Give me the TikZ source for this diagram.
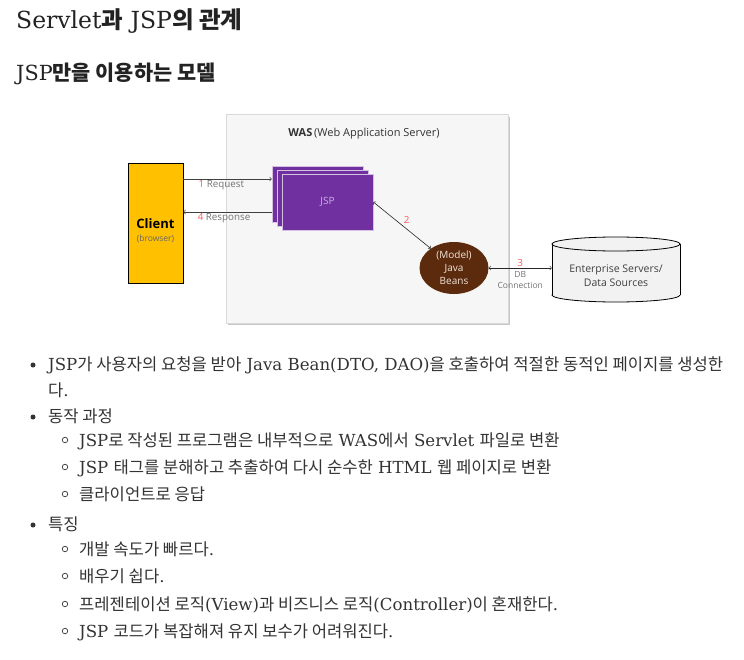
\documentclass[tikz,border=0pt]{standalone}
\usepackage{fontspec}
\setmainfont{DejaVu Serif}
\newfontfamily\kofont{Noto Sans CJK KR}
\newfontfamily\diafont{Open Sans}
\newcommand{\ko}[1]{{\kofont #1}}
\usetikzlibrary{shapes.geometric}
\definecolor{bodyclr}{HTML}{333333}
\definecolor{headclr}{HTML}{222222}
\definecolor{clientyellow}{HTML}{FFC000}
\definecolor{jsppurple}{HTML}{7030A0}
\definecolor{jsplight}{HTML}{C9B3E0}
\definecolor{beansbrown}{HTML}{5C2A0D}
\definecolor{beanstext}{HTML}{F2E6DA}
\definecolor{wasgray}{HTML}{F6F6F6}
\definecolor{dbgray}{HTML}{F2F2F2}
\definecolor{numred}{HTML}{FF5A5A}
\definecolor{lblgray}{HTML}{737373}

\begin{document}
\begin{tikzpicture}[x=1bp,y=-1bp,
    bodytext/.style={anchor=base west,inner sep=0pt,text=bodyclr,font=\fontsize{16.6bp}{20bp}\selectfont},
    bulletdot/.style={circle,fill=bodyclr,inner sep=0pt,minimum size=5bp},
    bulletring/.style={circle,draw=bodyclr,line width=0.7bp,inner sep=0pt,minimum size=5.5bp},
    jspbox/.style={rectangle,fill=jsppurple,draw=white!70!jsppurple,line width=0.6bp,minimum width=91bp,minimum height=56bp},
    lbl/.style={font=\diafont\fontsize{9.8bp}{12bp}\selectfont,text=lblgray,inner sep=1.5bp}]
\useasboundingbox[fill=white] (0,0) rectangle (744,660);

\node[anchor=base west,inner sep=0pt,text=headclr,font=\fontsize{23.5bp}{28bp}\selectfont] (title) at (16,29) {Servlet\ko{\bfseries 과} JSP\ko{\bfseries 의 관계}};
\node[anchor=base west,inner sep=0pt,text=headclr,font=\fontsize{20.8bp}{25bp}\selectfont] (subtitle) at (16,81) {JSP{\kofont\bfseries 만을 이용하는 모델}};

% WAS
\fill[black!22] (228,117) rectangle (510,325);
\draw[fill=wasgray,draw=black!15,line width=1bp] (226,115) rectangle (508,323);
\node[font=\diafont\fontsize{11bp}{13bp}\selectfont,text=black!80] (wastitle) at (364,134) {\textbf{WAS}\,(Web Application Server)};

\node[draw=black,line width=0.8bp,fill=clientyellow,minimum width=55bp,minimum height=120bp] (client) at (155.5,223) {};
\node[align=center,inner sep=0pt] (clientname) at ([yshift=-8bp]client.center) {{\diafont\bfseries\fontsize{13bp}{15bp}\selectfont Client}\\[1bp]{\diafont\fontsize{8.5bp}{10bp}\selectfont\color{black!60}(browser)}};

\node[jspbox] (jsp3) at (317.5,194) {};
\node[jspbox] (jsp2) at (322.5,198) {};
\node[jspbox,text=jsplight,font=\diafont\fontsize{10bp}{12bp}\selectfont] (jsp1) at (327.5,202) {JSP};

\node[ellipse,fill=beansbrown,minimum width=69bp,minimum height=52bp,inner sep=0pt,align=center,text=beanstext,font=\diafont\fontsize{10bp}{13bp}\selectfont] (beans) at (454,268) {(Model)\\Java\\Beans};

% DB
\draw[fill=dbgray,line width=0.8bp] (616,295) ellipse [x radius=64,y radius=7];
\fill[dbgray] (552,244) rectangle (680,295);
\draw[line width=0.8bp] (552,244) -- (552,295) (680,244) -- (680,295);
\draw[fill=dbgray,line width=0.8bp] (616,244) ellipse [x radius=64,y radius=7];
\node[align=center,inner sep=0pt,minimum width=128bp,text=black!75,font=\diafont\fontsize{10.5bp}{14bp}\selectfont] (db) at (616,276) {Enterprise Servers/\\Data Sources};

\coordinate (reqstart) at ([yshift=44bp]client.east);
\coordinate (respstart) at ([yshift=11bp]client.east);
\draw[->,black!75,line width=0.6bp] (reqstart) -- node[lbl,below,pos=0.43] {\textcolor{numred}{1} Request} (reqstart -| jsp3.west);
\draw[->,black!75,line width=0.6bp] (respstart -| jsp3.west) -- node[lbl,below,pos=0.54] {\textcolor{numred}{4} Response} (respstart);
\draw[<->,black!85,line width=0.6bp] (jsp1.east) -- node[lbl,above right,text=numred] {2} (beans.140);
\draw[<->,black!85,line width=0.6bp] (beans.east) -- node[lbl,above,text=numred] {3} node[lbl,below,yshift=-2bp,align=center,font=\diafont\fontsize{8.5bp}{11bp}\selectfont] {DB\\Connection} (db.west |- beans.east);

% list
\foreach \y in {365,417,525} \node[bulletdot] (dot\y) at (33,\y) {};
\foreach \y in {440,467,494,549,576,604,631} \node[bulletring] (ring\y) at (65,\y) {};
\node[bodytext] (item1a) at (48,370) {JSP\ko{가 사용자의 요청을 받아} Java Bean(DTO, DAO)\ko{을 호출하여 적절한 동적인 페이지를 생성한}};
\node[bodytext] (item1b) at (48,396) {\ko{다}.};
\node[bodytext] (item2) at (48,422) {\ko{동작 과정}};
\node[bodytext] (item2a) at (79,446) {JSP\ko{로 작성된 프로그램은 내부적으로} WAS\ko{에서} Servlet \ko{파일로 변환}};
\node[bodytext] (item2b) at (79,473) {JSP \ko{태그를 분해하고 추출하여 다시 순수한} HTML \ko{웹 페이지로 변환}};
\node[bodytext] (item2c) at (79,500) {\ko{클라이언트로 응답}};
\node[bodytext] (item3) at (48,530) {\ko{특징}};
\node[bodytext] (item3a) at (79,555) {\ko{개발 속도가 빠르다}.};
\node[bodytext] (item3b) at (79,582) {\ko{배우기 쉽다}.};
\node[bodytext] (item3c) at (79,610) {\ko{프레젠테이션 로직}(View)\ko{과 비즈니스 로직}(Controller)\ko{이 혼재한다}.};
\node[bodytext] (item3d) at (79,637) {JSP \ko{코드가 복잡해져 유지 보수가 어려워진다}.};
\end{tikzpicture}
\end{document}
